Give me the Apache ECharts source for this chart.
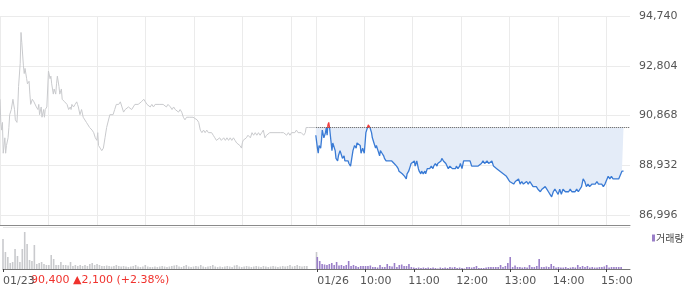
<!DOCTYPE html>
<html><head><meta charset="utf-8">
<script src="https://cdn.jsdelivr.net/npm/echarts@6/dist/echarts.min.js"></script>
<style>html,body{margin:0;padding:0;background:#fff}#c{width:700px;height:289px}</style>
</head><body><div id="c"></div>
<script>
// [minutes since 09:00, price] for 01/23
const day1Points = [[0,91500],[1,90600],[2,90300],[3,90600],[4,89400],[6,90000],[7,89400],[8,89700],[10,90000],[11,90400],[12,90900],[14,91100],[16,91500],[18,91100],[19,90700],[21,90600],[22,91200],[23,92000],[25,92900],[26,94100],[27,93700],[29,92800],[30,92500],[31,92700],[33,92300],[34,92100],[36,92200],[37,91700],[38,91300],[40,91500],[41,91500],[42,91400],[44,91400],[45,91200],[47,91100],[48,91300],[49,90900],[51,91200],[52,90800],[54,91100],[55,90800],[56,91100],[58,91200],[60,92600],[62,92300],[63,92400],[64,92100],[66,91700],[67,91900],[69,91700],[70,92100],[71,92400],[73,92000],[74,91700],[76,91900],[77,91500],[78,91500],[80,91400],[83,91300],[85,91100],[87,91200],[88,91100],[89,91300],[91,91200],[93,91300],[95,91400],[96,91300],[97,91200],[99,90900],[101,91100],[103,90800],[105,90800],[107,90600],[109,90500],[111,90400],[114,90300],[116,90200],[118,90000],[120,89900],[121,90200],[122,89700],[124,89600],[126,89500],[128,89600],[130,90000],[132,90400],[134,90400],[136,90900],[138,90900],[140,90900],[142,91100],[144,91300],[147,91300],[149,91400],[151,91200],[153,91000],[155,91100],[157,91100],[159,91200],[161,91200],[163,91100],[165,91200],[167,91300],[169,91300],[171,91300],[173,91300],[175,91400],[178,91500],[180,91400],[182,91300],[184,91300],[186,91200],[188,91300],[190,91200],[192,91300],[194,91300],[198,91300],[202,91300],[204,91300],[206,91200],[208,91300],[211,91200],[213,91100],[215,91200],[217,91100],[219,91100],[221,91000],[223,91100],[225,91000],[227,90800],[229,90700],[231,90800],[233,90800],[235,90800],[237,90800],[239,90800],[241,90800],[244,90700],[246,90600],[248,90300],[250,90200],[252,90300],[254,90200],[256,90300],[258,90200],[260,90200],[262,90200],[264,90100],[266,90000],[268,89900],[270,89900],[272,90000],[274,89900],[277,90000],[279,89900],[281,90000],[283,89900],[285,90000],[287,89900],[289,90000],[291,89900],[293,89800],[295,89800],[297,89700],[299,89600],[300,89800],[301,89900],[303,89900],[305,90000],[307,90100],[310,90000],[312,90200],[314,90100],[316,90200],[318,90100],[320,90200],[322,90100],[324,90200],[326,90300],[328,90000],[330,90100],[332,90100],[334,90200],[336,90200],[338,90200],[340,90200],[343,90200],[345,90200],[347,90200],[349,90200],[351,90200],[353,90200],[355,90100],[357,90200],[359,90100],[361,90200],[363,90200],[365,90200],[367,90300],[369,90200],[371,90200],[373,90200],[376,90100],[378,90200],[379,90400],[382,90400],[390,90400]];

// [minutes since 09:00, price] for 01/26
const day2Points = [[0,90100],[2,89600],[3,89400],[4,89700],[6,89600],[7,89900],[8,90300],[9,90300],[10,90000],[12,90200],[13,90400],[14,90100],[15,90500],[16,90600],[17,90400],[19,89800],[20,89500],[21,89800],[22,89700],[24,89500],[25,89200],[27,89100],[28,89300],[30,89500],[32,89300],[33,89200],[35,89300],[36,89100],[38,89100],[40,89100],[41,89000],[43,88900],[45,88900],[46,89500],[48,89700],[50,89600],[51,89800],[53,89800],[55,89700],[56,89400],[58,89600],[60,89400],[61,89800],[62,90200],[64,90400],[65,90500],[67,90400],[69,90200],[70,90000],[72,89800],[74,89600],[75,89700],[77,89500],[79,89300],[80,89500],[82,89400],[84,89300],[85,89200],[87,89100],[89,89100],[90,89100],[92,89100],[94,89100],[95,89100],[97,89000],[98,89000],[100,88900],[102,88800],[103,88700],[105,88700],[107,88600],[108,88600],[110,88500],[112,88400],[113,88600],[115,88700],[117,88900],[118,89000],[120,89000],[122,89100],[123,88900],[125,89100],[127,88800],[128,88700],[130,88600],[131,88700],[133,88600],[135,88700],[136,88600],[138,88800],[140,88800],[141,88800],[143,88900],[145,88800],[146,88900],[148,89000],[150,88900],[151,89000],[153,89000],[155,89100],[156,89200],[158,89100],[160,89100],[161,89000],[163,89000],[164,88800],[166,88900],[168,88900],[169,88800],[171,88800],[173,88800],[174,88900],[176,88800],[178,88900],[179,89000],[181,88800],[183,89100],[185,89100],[188,89100],[191,89100],[193,88900],[195,88900],[197,88900],[199,88900],[201,88900],[203,88900],[205,89000],[207,89100],[209,89000],[212,89100],[214,89000],[216,89000],[218,89100],[220,88900],[222,88900],[224,88800],[226,88800],[228,88700],[230,88700],[232,88600],[234,88600],[236,88500],[238,88400],[240,88300],[242,88300],[245,88200],[247,88300],[249,88300],[251,88400],[253,88200],[255,88300],[257,88200],[259,88200],[261,88300],[263,88200],[265,88300],[267,88200],[269,88100],[271,88100],[273,88100],[275,88000],[278,87900],[280,88000],[282,88000],[284,88100],[286,88000],[288,87900],[290,87800],[292,87700],[294,87900],[296,88000],[298,87900],[300,87800],[302,88000],[304,87800],[306,88000],[309,87900],[311,87900],[313,87900],[315,88000],[317,87900],[319,87900],[321,87900],[323,88000],[325,87900],[327,87900],[329,88100],[331,88400],[333,88300],[335,88100],[337,88200],[339,88100],[342,88200],[344,88200],[346,88200],[348,88300],[350,88200],[352,88200],[354,88200],[356,88100],[358,88200],[360,88200],[362,88500],[364,88400],[366,88500],[368,88400],[370,88400],[372,88400],[375,88400],[377,88400],[379,88700],[381,88700]];

// volume per 3-minute bucket (relative units)
const day1Volume = [300,170,120,60,70,200,130,70,200,370,250,90,80,240,50,60,70,50,40,40,140,100,40,40,70,40,40,35,70,30,40,30,40,30,40,30,50,60,40,50,40,30,
30,35,30,25,30,40,30,25,30,25,
20,25,30,40,25,20,25,40,25,20,
20,25,20,25,30,25,20,25,30,35,
40,25,20,30,40,25,20,25,30,25,
40,25,20,25,30,40,25,20,25,20,
25,30,25,20,35,40,25,20,25,30,
25,20,25,30,25,20,30,25,20,25,
30,25,20,25,30,25,30,40,25,30,
40,30,25,30,30,
0,0,0,170];
const day2Volume = [120,80,50,45,40,50,60,40,70,35,
40,30,40,80,30,40,30,20,30,30,
30,30,35,20,20,15,40,20,20,50,
30,25,60,20,40,45,30,30,50,20,
15,10,15,10,15,10,15,10,15,10,
5,15,10,15,10,20,15,20,10,15,
10,5,20,20,15,20,30,10,10,10,
15,20,20,20,20,20,40,20,30,60,
120,20,35,20,20,15,20,15,40,20,
20,30,100,20,20,25,20,50,30,15,
20,15,15,20,10,15,20,15,40,20,
30,20,30,15,20,15,15,20,20,25,
40,15,20,20,20,20,20];

const priceTicks = [86996, 88932, 90868, 92804, 94740];
const timeTicks = [0, 391, 451, 511, 571, 631, 691, 751];
const timeLabels = ['01/23', '01/26', '10:00', '11:00', '12:00', '13:00', '14:00', '15:00'];
const day1HourTicks = [0, 60, 120, 180, 240, 300, 360];
const prevClose = 90400;
const prevChange = 2100;
const prevChangePct = 2.38;
const volumeLegend = '거래량';

const DAY2_START = 391;
const VOLUME_STEP = 3;
const AXIS_MAX = 780;
const Y_MIN = 86607;
const LABEL_NUDGE = 7;
const FONT = 'DejaVu Sans';

const day1Line = day1Points.map(p => [p[0], p[1]]);
const day2Line = day2Points.map(p => [p[0] + DAY2_START, p[1]]);
const closeLine = [[DAY2_START, prevClose], [AXIS_MAX, prevClose]];
const day1Bars = day1Volume.map((v, i) => [i * VOLUME_STEP, v]);
const day2Bars = day2Volume.map((v, i) => [DAY2_START + i * VOLUME_STEP, v]);
const gridTicks = day1HourTicks.concat(timeTicks.slice(1));
const labelPos = timeTicks.map((t, i) => i < 2 ? t : t - LABEL_NUDGE);

const chart = echarts.init(document.getElementById('c'));
chart.setOption({
  animation: false,
  grid: [
    {left: 0, right: 70, top: 16, height: 209},
    {left: 0, right: 70, top: 227, height: 42}
  ],
  xAxis: [
    {gridIndex: 0, type: 'value', min: 0, max: AXIS_MAX,
      axisLine: {show: true, onZero: false, lineStyle: {color: '#8a8a8a', width: 1}},
      axisTick: {show: false, customValues: gridTicks},
      axisLabel: {show: false, customValues: gridTicks},
      splitLine: {show: true, lineStyle: {color: '#ebebeb', width: 1}}},
    {gridIndex: 1, type: 'value', min: 0, max: AXIS_MAX,
      axisLine: {show: true, onZero: false, lineStyle: {color: '#777', width: 1}},
      axisTick: {show: true, customValues: timeTicks, length: 3, lineStyle: {color: '#444'}},
      axisLabel: {show: true, customValues: labelPos,
        formatter: v => timeLabels[labelPos.indexOf(v)],
        align: 'left', margin: 7, color: '#555', fontFamily: FONT, fontSize: 11},
      splitLine: {show: false}}
  ],
  yAxis: [
    {gridIndex: 0, type: 'value', position: 'right', min: Y_MIN, max: priceTicks[priceTicks.length - 1],
      axisLine: {show: false, onZero: false},
      axisTick: {show: false, customValues: priceTicks},
      axisLabel: {customValues: priceTicks, formatter: v => v.toLocaleString('en-US'),
        margin: 9, color: '#555', fontFamily: FONT, fontSize: 11},
      splitLine: {show: true, lineStyle: {color: '#ebebeb', width: 1}}},
    {gridIndex: 1, type: 'value', min: 0, max: 420, interval: 420,
      axisLine: {show: false, onZero: false}, axisTick: {show: false}, axisLabel: {show: false},
      splitLine: {show: true, lineStyle: {color: '#e6e6e6'}}}
  ],
  visualMap: {show: false, type: 'piecewise', seriesIndex: 1, dimension: 1,
    pieces: [
      {gte: Y_MIN, lte: prevClose, color: '#3a7bd5'},
      {gt: prevClose, lte: priceTicks[priceTicks.length - 1], color: '#f23b3b'}
    ],
    outOfRange: {color: '#3a7bd5'}},
  legend: {data: [volumeLegend], left: 652, top: 233, itemWidth: 3, itemHeight: 7,
    icon: 'rect', selectedMode: false, padding: 0,
    textStyle: {fontFamily: 'Noto Sans CJK KR', fontSize: 10, color: '#444', padding: [0, 0, 0, -4]}},
  graphic: [{type: 'text', left: 31, top: 275,
    style: {text: prevClose.toLocaleString('en-US') + ' \u25B2' + prevChange.toLocaleString('en-US') + ' (+' + prevChangePct.toFixed(2) + '%)',
      fill: '#f0322d', font: '11px "DejaVu Sans"'}}],
  series: [
    {type: 'line', name: '01/23', xAxisIndex: 0, yAxisIndex: 0, data: day1Line, symbol: 'none',
      lineStyle: {color: '#c9cacd', width: 1}, itemStyle: {color: '#c9cacd'}, z: 3},
    {type: 'line', name: '01/26', xAxisIndex: 0, yAxisIndex: 0, data: day2Line, symbol: 'none',
      lineStyle: {width: 1.3}, areaStyle: {origin: prevClose, color: '#e4ecf8', opacity: 1}, z: 3},
    {type: 'line', name: 'prevClose', xAxisIndex: 0, yAxisIndex: 0, data: closeLine, symbol: 'none',
      silent: true, lineStyle: {color: '#555', type: 'dotted', width: 1}, itemStyle: {color: '#555'}, z: 4},
    {type: 'bar', name: '01/23 거래량', xAxisIndex: 1, yAxisIndex: 1, data: day1Bars,
      barWidth: 1.6, barGap: '-100%', itemStyle: {color: '#c9cacd'}},
    {type: 'bar', name: volumeLegend, xAxisIndex: 1, yAxisIndex: 1, data: day2Bars,
      barWidth: 1.6, barGap: '-100%', itemStyle: {color: '#9a7fc8'}}
  ]
});
</script></body></html>
